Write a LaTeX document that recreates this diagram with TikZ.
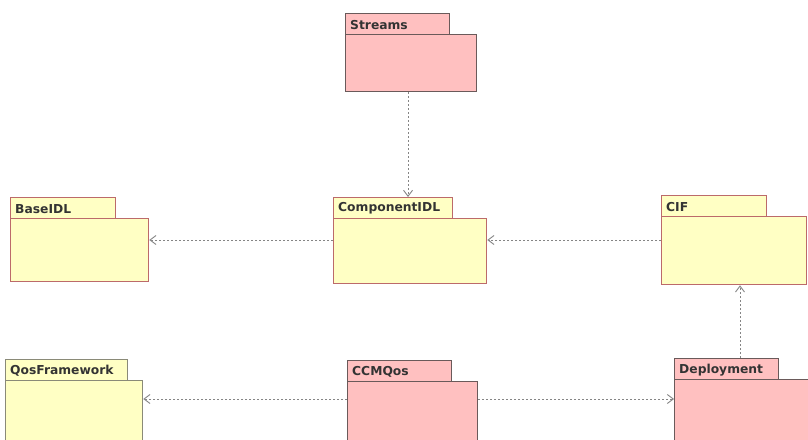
\documentclass[tikz,border=0pt]{standalone}
\usepackage{fontspec}
\newfontfamily\pkgfont{DejaVu Sans}
\usetikzlibrary{arrows.meta}
\definecolor{yelfill}{HTML}{FFFFC4}
\definecolor{pinkfill}{HTML}{FFC0C0}
\definecolor{yelline}{HTML}{BC6A6A}
\definecolor{pinkline}{HTML}{6A5A5A}
\definecolor{qosline}{HTML}{8A8A78}
\definecolor{depline}{HTML}{858585}
\tikzset{
  yelpkg/.style={draw=yelline, fill=yelfill, line width=1.3pt, inner sep=0pt},
  pinkpkg/.style={draw=pinkline, fill=pinkfill, line width=1.3pt, inner sep=0pt},
  qospkg/.style={draw=qosline, fill=yelfill, line width=1.3pt, inner sep=0pt},
  pkglabel/.style={font=\pkgfont\bfseries\fontsize{12.3}{14}\selectfont, text=black!80, inner sep=0pt, anchor=west, xshift=5pt, yshift=-0.5pt},
  dep/.style={draw=depline, line width=1pt, dash pattern=on 2pt off 2pt,
    -{Straight Barb[length=6pt,width=9pt,line width=0.9pt]}}
}
% #1 name, #2 x, #3 y (top of tab), #4 tab width, #5 body width, #6 body height, #7 style, #8 text
\newcommand\pkgbox[8]{%
  \node[#7, anchor=north west, minimum width=#5, minimum height=#6] (#1) at (#2,#3+21) {};
  \node[#7, anchor=north west, minimum width=#4, minimum height=21,
        label={[pkglabel]west:{#8}}] (#1tab) at (#2,#3) {};
}
\begin{document}
\begin{tikzpicture}[x=1pt,y=-1pt]
\useasboundingbox (0,0) rectangle (808,439);
\clip (0,0) rectangle (808,439);
\fill[white] (0,0) rectangle (808,439);

\pkgbox{streams}{345}{13}{104}{131}{57}{pinkpkg}{Streams}
\pkgbox{baseidl}{10}{197}{105}{138}{63}{yelpkg}{BaseIDL}
\pkgbox{cidl}{333}{197}{119}{153}{65}{yelpkg}{ComponentIDL}
\pkgbox{cif}{661}{195}{105}{145}{68}{yelpkg}{CIF}
\pkgbox{qos}{5}{359}{122}{137}{80}{qospkg}{QosFramework}
\pkgbox{ccm}{347}{360}{104}{130}{80}{pinkpkg}{CCMQos}
\pkgbox{depl}{674}{358}{104}{150}{80}{pinkpkg}{Deployment}

\coordinate (rowmid) at (0,240);
\coordinate (rowlow) at (0,399);
\coordinate (vstream) at (408,0);
\coordinate (vdepl) at (740,0);

\draw[dep] (streams.south -| vstream) -- (cidltab.north -| vstream);
\draw[dep] (cidl.west |- rowmid) -- (baseidl.east |- rowmid);
\draw[dep] (cif.west |- rowmid) -- (cidl.east |- rowmid);
\draw[dep] (depltab.north -| vdepl) -- (cif.south -| vdepl);
\draw[dep] (ccm.west |- rowlow) -- (qos.east |- rowlow);
\draw[dep] (ccm.east |- rowlow) -- (depl.west |- rowlow);
\end{tikzpicture}
\end{document}
